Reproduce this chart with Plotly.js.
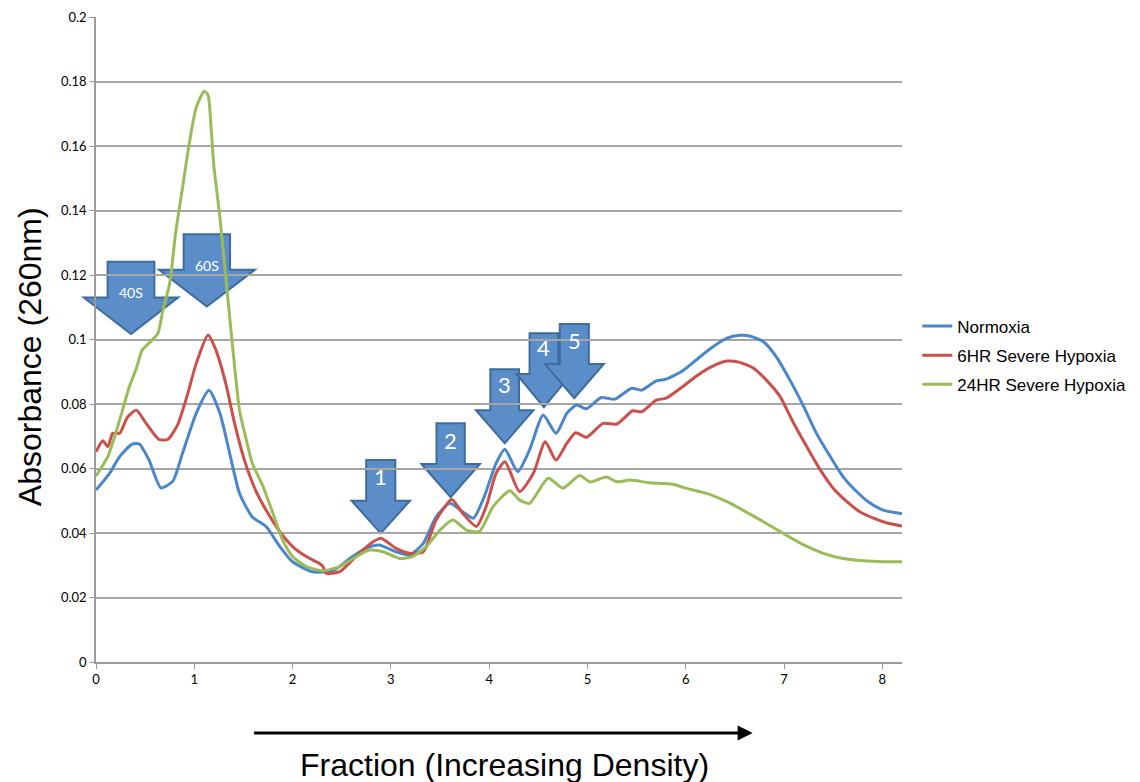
<!DOCTYPE html>
<html>
<head>
<meta charset="utf-8">
<script src="https://cdn.plot.ly/plotly-3.0.1.min.js"></script>
<style>html,body{margin:0;padding:0;background:#fff;}#chart{width:1140px;height:782px;}</style>
</head>
<body>
<div id="chart"></div>
<script>
// ---- Data ----
const normoxiaX = [0,0.14,0.24,0.37,0.44,0.54,0.66,0.78,0.88,1.02,1.15,1.26,1.36,1.46,1.59,1.73,1.87,2.0,2.2,2.41,2.61,2.75,2.88,3.05,3.19,3.33,3.46,3.6,3.73,3.84,3.95,4.07,4.16,4.29,4.41,4.55,4.68,4.79,4.89,4.99,5.14,5.28,5.45,5.55,5.70,5.80,5.97,6.14,6.28,6.42,6.55,6.65,6.79,6.92,7.06,7.20,7.33,7.47,7.60,7.74,7.87,8.01,8.2];
const normoxiaY = [0.0533,0.0586,0.0637,0.0676,0.0676,0.0626,0.054,0.056,0.0647,0.0772,0.0843,0.0772,0.0647,0.0523,0.045,0.042,0.0358,0.0311,0.028,0.0283,0.0327,0.0353,0.0363,0.0342,0.0332,0.0368,0.045,0.0492,0.0466,0.0446,0.0513,0.0616,0.066,0.059,0.0657,0.0766,0.0709,0.0771,0.0797,0.0785,0.082,0.0815,0.0849,0.0843,0.0872,0.0877,0.0903,0.0945,0.0978,0.1004,0.1013,0.1011,0.0993,0.0947,0.0874,0.0792,0.0709,0.0637,0.0575,0.0528,0.0494,0.0471,0.046];

const hyp6X = [0,0.07,0.12,0.17,0.24,0.32,0.41,0.51,0.64,0.73,0.83,0.92,1.02,1.14,1.22,1.32,1.41,1.51,1.63,1.73,1.87,2.0,2.14,2.27,2.31,2.34,2.48,2.66,2.82,2.90,3.05,3.19,3.33,3.46,3.62,3.73,3.87,3.97,4.07,4.16,4.31,4.45,4.57,4.68,4.79,4.88,4.99,5.16,5.30,5.46,5.55,5.70,5.80,5.97,6.11,6.28,6.42,6.55,6.69,6.82,6.96,7.09,7.23,7.37,7.50,7.64,7.77,7.91,8.04,8.2];
const hyp6Y = [0.0652,0.0686,0.0668,0.0709,0.0709,0.0759,0.0781,0.074,0.069,0.069,0.0735,0.0818,0.0926,0.1014,0.0967,0.0864,0.074,0.0626,0.0528,0.0471,0.0404,0.0358,0.0327,0.0306,0.0296,0.0275,0.028,0.0332,0.0373,0.0384,0.0353,0.0337,0.0342,0.044,0.0504,0.0461,0.042,0.0482,0.0585,0.0621,0.0528,0.0585,0.0683,0.0626,0.0678,0.0711,0.0697,0.074,0.0738,0.0779,0.0776,0.0812,0.0818,0.0854,0.0887,0.0918,0.0933,0.0929,0.0911,0.0874,0.0823,0.0745,0.0668,0.0595,0.0539,0.0497,0.0466,0.0446,0.0432,0.0422];

const hyp24X = [0,0.12,0.20,0.27,0.34,0.41,0.47,0.56,0.63,0.68,0.75,0.81,0.88,0.95,1.02,1.10,1.14,1.17,1.20,1.26,1.31,1.36,1.41,1.46,1.53,1.59,1.70,1.80,1.90,2.0,2.14,2.31,2.48,2.65,2.78,2.92,3.09,3.22,3.36,3.50,3.63,3.77,3.90,4.04,4.21,4.31,4.41,4.60,4.75,4.92,5.03,5.19,5.30,5.43,5.63,5.87,6.0,6.21,6.42,6.58,6.79,6.99,7.20,7.40,7.60,7.81,8.01,8.2];
const hyp24Y = [0.0577,0.0637,0.0709,0.0781,0.0854,0.091,0.0967,0.0995,0.1019,0.109,0.1174,0.133,0.147,0.161,0.172,0.177,0.1758,0.166,0.1536,0.138,0.1226,0.107,0.0916,0.0781,0.0688,0.0616,0.0544,0.0461,0.0378,0.0327,0.0296,0.0283,0.0296,0.0327,0.0347,0.0342,0.0321,0.0327,0.0358,0.0409,0.044,0.0409,0.0404,0.0482,0.0531,0.0502,0.0492,0.057,0.0539,0.0578,0.0558,0.0574,0.0559,0.0564,0.0556,0.0551,0.0539,0.0523,0.0497,0.0471,0.0435,0.0399,0.0363,0.0337,0.0321,0.0314,0.0311,0.0311];

const seriesNames = ["Normoxia", "6HR Severe Hypoxia", "24HR Severe Hypoxia"];
const seriesColors = ["#4a86c8", "#c9504b", "#9bbb59"];

// Peak markers (block arrows): label, centre x, top y, head-base y, tip y, shaft half-width, wing half-width, label y, label size
const markerLabels = ["40S", "60S", "1", "2", "3", "4", "5"];
const markerCx     = [0.356, 1.128, 2.897, 3.608, 4.158, 4.557, 4.866];
const markerTop    = [0.1241, 0.1326, 0.0626, 0.0740, 0.0908, 0.1019, 0.1048];
const markerBase   = [0.1130, 0.1216, 0.0500, 0.0614, 0.0781, 0.0893, 0.0924];
const markerTip    = [0.1017, 0.1102, 0.0399, 0.0511, 0.0678, 0.0790, 0.0818];
const markerShaft  = [0.238, 0.236, 0.148, 0.144, 0.146, 0.146, 0.148];
const markerWing   = [0.480, 0.487, 0.297, 0.297, 0.292, 0.280, 0.300];
const markerLabelY = [0.1147, 0.1231, 0.0574, 0.0688, 0.0859, 0.0974, 0.0998];
const markerFont   = [14, 14, 22, 22, 22, 22, 22];

const X_MAX = 8.2, Y_MAX = 0.2;

const traces = [
  {x: normoxiaX, y: normoxiaY},
  {x: hyp6X, y: hyp6Y},
  {x: hyp24X, y: hyp24Y}
].map((d, i) => ({
  type: "scatter", mode: "lines", x: d.x, y: d.y, name: seriesNames[i], legendgroup: "g" + i,
  line: {color: seriesColors[i], width: 3, shape: "spline", smoothing: 0.6}
}));

const shapes = [];
const annotations = [];
markerLabels.forEach((lab, i) => {
  // express in paper units so the 40S arrow may overhang the y axis without being clipped
  const px = v => v / X_MAX, py = v => v / Y_MAX;
  const c = markerCx[i], s = markerShaft[i], w = markerWing[i];
  const p = `M ${px(c - s)},${py(markerTop[i])} L ${px(c + s)},${py(markerTop[i])} L ${px(c + s)},${py(markerBase[i])} L ${px(c + w)},${py(markerBase[i])} L ${px(c)},${py(markerTip[i])} L ${px(c - w)},${py(markerBase[i])} L ${px(c - s)},${py(markerBase[i])} Z`;
  shapes.push({type: "path", xref: "paper", yref: "paper", path: p, fillcolor: "#5b8ec9",
    line: {color: "#3d6b9e", width: 2}, layer: "between"});
  annotations.push({xref: "x", yref: "y", x: c, y: markerLabelY[i], text: lab, showarrow: false,
    font: {family: "Lato, 'Open Sans', sans-serif", size: markerFont[i], color: "#ffffff"}});
});

// density direction arrow below the x axis
annotations.push({xref: "x", yref: "paper", x: 6.68, y: -0.110, ax: -500, ay: 0, axref: "pixel", ayref: "pixel",
  text: "", showarrow: true, arrowhead: 2, arrowsize: 1, arrowwidth: 3, arrowcolor: "#000000"});
// axis titles
annotations.push({xref: "paper", yref: "paper", x: 0.507, y: -0.160, yanchor: "middle", text: "Fraction (Increasing Density)",
  showarrow: false, font: {family: "'Liberation Sans', Arial, sans-serif", size: 32, color: "#000"}});
annotations.push({xref: "paper", yref: "paper", x: -0.082, y: 0.474, xanchor: "center", yanchor: "middle", textangle: -90,
  text: "Absorbance (260nm)", showarrow: false, font: {family: "'Liberation Sans', Arial, sans-serif", size: 32, color: "#000"}});

const layout = {
  width: 1140, height: 782,
  margin: {l: 96, r: 238, t: 17, b: 120, autoexpand: false},
  paper_bgcolor: "#ffffff", plot_bgcolor: "#ffffff",
  showlegend: true,
  legend: {x: 1.019, y: 0.548, xanchor: "left", yanchor: "top", bgcolor: "rgba(0,0,0,0)",
    traceorder: "grouped", tracegroupgap: 4,
    font: {family: "'Liberation Sans', Arial, sans-serif", size: 17, color: "#000"}, itemwidth: 30},
  xaxis: {range: [0, X_MAX], dtick: 1, tick0: 0, showgrid: false, zeroline: false, showline: true,
    linecolor: "#9a9a9a", linewidth: 1.5, ticks: "outside", ticklen: 5, tickcolor: "#9a9a9a",
    tickfont: {family: "Lato, 'Open Sans', sans-serif", size: 13, color: "#000"}},
  yaxis: {range: [0, Y_MAX], dtick: 0.02, tick0: 0, showgrid: true, gridcolor: "#a6a6a6", gridwidth: 1.5,
    zeroline: false, showline: true, linecolor: "#9a9a9a", linewidth: 1.5, ticks: "outside", ticklen: 5,
    tickcolor: "#9a9a9a", tickfont: {family: "Lato, 'Open Sans', sans-serif", size: 13, color: "#000"}},
  shapes: shapes,
  annotations: annotations
};

Plotly.newPlot("chart", traces, layout, {displayModeBar: false, responsive: false});
</script>
</body>
</html>
